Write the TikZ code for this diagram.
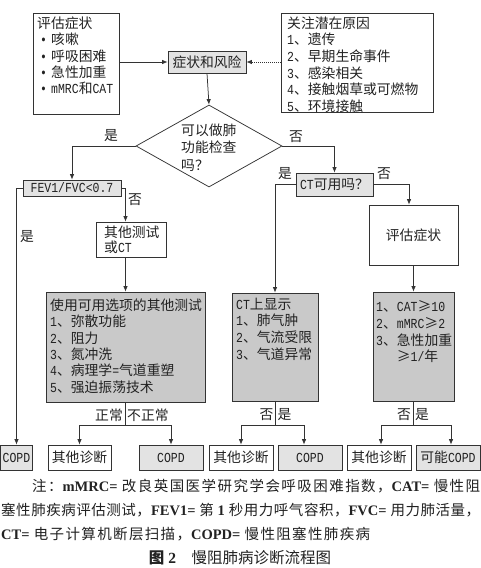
\documentclass[tikz,border=0pt]{standalone}
\usepackage{fontspec}
\setmainfont{Liberation Mono}[FakeStretch=0.833]
\newfontfamily\cjkf{Noto Sans CJK SC}
\newfontfamily\capf{Liberation Serif}
\usetikzlibrary{shapes.geometric,arrows.meta,calc}
\ifdefined\newXeTeXintercharclass
  \newXeTeXintercharclass\cjkcls
\else
  \chardef\cjkcls=250
\fi
\newcount\cjkn
\def\cjkrange#1#2{\cjkn=#1\relax
  \loop\XeTeXcharclass\cjkn=\cjkcls\relax
  \advance\cjkn by 1\relax
  \ifnum\cjkn<#2\relax\repeat}
\cjkrange{"4E00}{"A000}
\cjkrange{"3000}{"3040}
\cjkrange{"FF00}{"FFF0}
\XeTeXcharclass"2264=\cjkcls
\XeTeXcharclass"2265=\cjkcls
\def\latf{\rmfamily}
\def\cjksw{\cjkf}
\def\cjkglue{}
\XeTeXinterchartoks 0 \cjkcls={\cjksw}
\XeTeXinterchartoks 4095 \cjkcls={\cjksw}
\XeTeXinterchartoks \cjkcls 0={\latf}
\XeTeXinterchartoks \cjkcls 4095={\latf}
\XeTeXinterchartoks \cjkcls \cjkcls={\cjkglue}
\XeTeXinterchartokenstate=1
\definecolor{lg}{HTML}{E3E3E3}
\definecolor{dg}{HTML}{C9C9C9}
\definecolor{ln}{HTML}{333333}
\definecolor{tx}{HTML}{222222}
\def\bxfont{\fontsize{13.8}{16.4}\selectfont}
\def\blt{\hspace*{3pt}\makebox[11pt][l]{•}}
\def\capset{\fontsize{14.5}{17}\selectfont\def\latf{\capf\bfseries}\def\cjksw{\cjkf\mdseries}\def\cjkglue{\hskip 0pt plus 4pt minus 1pt}\latf}
\begin{document}
\begin{tikzpicture}[x=1pt,y=-1pt,
  box/.style={draw=ln,line width=0.75pt,inner sep=0pt,fill=white,text=tx,font=\bxfont},
  lbox/.style={box,fill=lg},
  dbox/.style={box,fill=dg},
  txt/.style={inner sep=0pt,align=left,text=tx,font=\bxfont},
  lab/.style={inner sep=0pt,text=tx,font=\bxfont},
  conn/.style={draw=ln,line width=0.75pt},
  arr/.style={conn,-{Latex[length=5.5pt,width=4.5pt]}},
  captxt/.style={inner sep=0pt,text=tx,font=\capset}]
\fill[white] (0,0) rectangle (481,568);
\useasboundingbox (0,0) rectangle (481,568);

% top row
\node[box,minimum width=86,minimum height=101] (sx) at (76,63.5) {};
\node[txt,anchor=north west] (sxt) at (37,16.5) {评估症状\\\blt 咳嗽\\\blt 呼吸困难\\\blt 急性加重\\\blt mMRC和CAT};
\node[box,minimum width=152,minimum height=99] (risk) at (357,62.5) {};
\node[txt,anchor=north west,font=\fontsize{13.8}{16.6}\selectfont] (riskt) at (287,16.5) {关注潜在原因\\1、遗传\\2、早期生命事件\\3、感染相关\\4、接触烟草或可燃物\\5、环境接触};
\node[lbox,minimum width=78,minimum height=22] (sr) at (207,62) {症状和风险};

% decision
\node[draw=ln,line width=0.75pt,fill=white,diamond,inner sep=0pt,minimum width=146,minimum height=82] (q1) at (209,146) {};
\node[txt,anchor=north west,font=\fontsize{13.8}{17.5}\selectfont] (q1t) at (181,123.5) {可以做肺\\功能检查\\吗？};

% left branch
\node[lbox,minimum width=98,minimum height=16] (fev) at (72,188) {FEV1/FVC<0.7};
\node[box,minimum width=70,minimum height=35] (ot) at (131,239.5) {};
\node[txt,anchor=north west,font=\fontsize{13.8}{15}\selectfont] (ott) at (104,226) {其他测试\\或CT};
\node[dbox,minimum width=159,minimum height=110] (big1) at (125.5,347) {};
\node[txt,anchor=north west] (big1t) at (50,298.5) {使用可用选项的其他测试\\1、弥散功能\\2、阻力\\3、氮冲洗\\4、病理学=气道重塑\\5、强迫振荡技术};

% right branch
\node[lbox,minimum width=77,minimum height=23] (ctq) at (334.5,184.5) {CT可用吗？};
\node[box,minimum width=89,minimum height=60] (pg) at (413.5,235) {评估症状};
\node[dbox,minimum width=86,minimum height=108] (ct) at (275,347) {};
\node[txt,anchor=north west,font=\fontsize{13.8}{16.8}\selectfont] (ctt) at (236,297.5) {CT上显示\\1、肺气肿\\2、气流受限\\3、气道异常};
\node[dbox,minimum width=81,minimum height=109] (cat) at (413.5,346.5) {};
\node[txt,anchor=north west,font=\fontsize{13.8}{16.7}\selectfont] (catt) at (376,300.5) {1、CAT≥10\\2、mMRC≥2\\3、急性加重\\\phantom{3、}≥1/年};

% bottom row
\node[lbox,minimum width=32,minimum height=25] (c0) at (16.5,457.5) {COPD};
\node[box,minimum width=63,minimum height=25] (o1) at (79.5,457.5) {其他诊断};
\node[lbox,minimum width=64,minimum height=25] (c1) at (171,457.5) {COPD};
\node[box,minimum width=64,minimum height=25] (o2) at (241,457.5) {其他诊断};
\node[lbox,minimum width=64,minimum height=25] (c2) at (310,457.5) {COPD};
\node[box,minimum width=64,minimum height=25] (o3) at (379,457.5) {其他诊断};
\node[lbox,minimum width=64,minimum height=25] (c3) at (448,457.5) {可能COPD};

% labels
\node[lab] (l1) at (111,136) {是};
\node[lab] (l2) at (296,137) {否};
\node[lab] (l3) at (135,200) {否};
\node[lab] (l4) at (27,237) {是};
\node[lab] (l5) at (285,174) {是};
\node[lab] (l6) at (384,174) {否};
\node[lab,anchor=east] (l7) at (123,415) {正常};
\node[lab,anchor=west] (l8) at (127,415) {不正常};
\node[lab,anchor=east] (l9) at (273.5,415) {否};
\node[lab,anchor=west] (l10) at (277.5,415) {是};
\node[lab,anchor=east] (l11) at (411,415) {否};
\node[lab,anchor=west] (l12) at (415,415) {是};

% junctions
\coordinate (j1) at ($(big1.south)+(0,23)$);
\coordinate (j2) at ($(ct.south)+(0,24)$);
\coordinate (j3) at ($(cat.south)+(0,24)$);

% connectors
\draw[arr] (sx.east |- sr.west) -- (sr.west);
\draw[arr,dash pattern=on 1pt off 1pt] (risk.west |- sr.east) -- (sr.east);
\draw[arr] (sr.south) -- (q1.north);
\draw[arr] (q1.west) -| (fev.north);
\draw[arr] (q1.east) -| (ctq.north);
\draw[arr] (fev.east) -| (big1.north |- ot.north);
\draw[arr] (fev.west) -| (c0.north);
\draw[arr] (big1.north |- ot.south) -- (big1.north);
\draw[conn] (big1.south) -- (j1);
\draw[arr] (j1) -| (o1.north);
\draw[arr] (j1) -| (c1.north);
\draw[arr] (ctq.west) -| (ct.north);
\draw[arr] (ctq.east) -| ([xshift=-4.5pt]pg.north);
\draw[arr] (pg.south) -- (cat.north);
\draw[conn] (ct.south) -- (j2);
\draw[arr] (j2) -| (o2.north);
\draw[arr] (j2) -| ([xshift=-6pt]c2.north);
\draw[conn] (cat.south) -- (j3);
\draw[arr] (j3) -| ([xshift=2pt]o3.north);
\draw[arr] (j3) -| ([xshift=3pt]c3.north);

% caption
\node[captxt,anchor=base west] (n1) at (32,491) {\hbox to 448pt{注：mMRC= 改良英国医学研究学会呼吸困难指数，CAT= 慢性阻}};
\node[captxt,anchor=base west] (n2) at (1,515) {\hbox to 479pt{塞性肺疾病评估测试，FEV1= 第 1 秒用力呼气容积，FVC= 用力肺活量，}};
\node[captxt,anchor=base west] (n3) at (1,539) {\hbox to 369pt{CT= 电子计算机断层扫描，COPD= 慢性阻塞性肺疾病}};
\node[captxt,anchor=base,font=\fontsize{15.5}{17}\selectfont\def\latf{\capf\bfseries}\def\cjksw{\cjkf\mdseries}] (n4) at (240,563) {{\def\cjksw{\cjkf\bfseries}图 2}\quad 慢阻肺病诊断流程图};
\end{tikzpicture}
\end{document}
